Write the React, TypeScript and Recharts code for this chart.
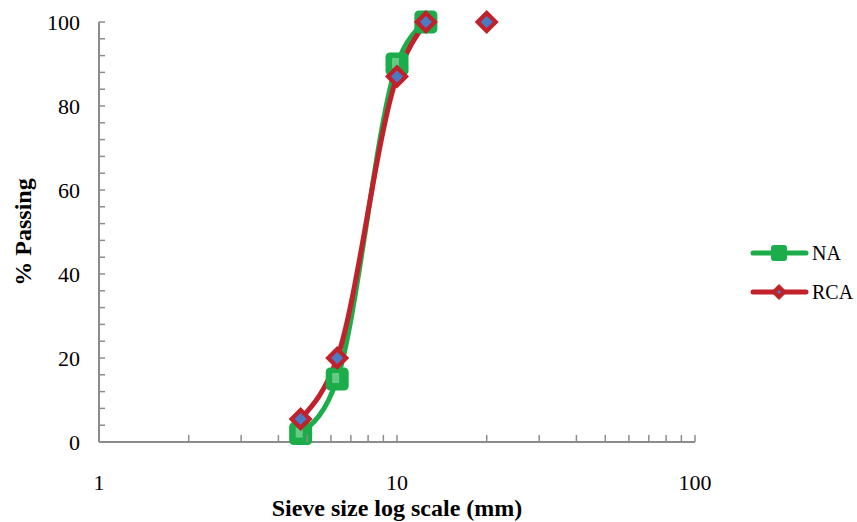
import React from 'react';
import {
  LineChart,
  Line,
  XAxis,
  YAxis,
} from 'recharts';

// sieve sizes (mm) and % passing
const naSizes = [4.75, 6.3, 10, 12.5];
const naPassing = [2, 15, 90, 100];
const rcaSizes = [4.75, 6.3, 10, 12.5, 16, 20];
const rcaPassing: (number | null)[] = [5.5, 20, 87, 100, null, 100];

const xTicks = [1, 2, 3, 4, 5, 6, 7, 8, 9, 10, 20, 30, 40, 50, 60, 70, 80, 90, 100];
const xLabels = [1, 10, 100];
const yTicks = [0, 4, 8, 12, 16, 20, 24, 28, 32, 36, 40, 44, 48, 52, 56, 60, 64, 68, 72, 76, 80, 84, 88, 92, 96, 100];
const yLabels = [0, 20, 40, 60, 80, 100];

const GREEN = '#1cad4b';
const GREEN_LIGHT = '#86d6a0';
const RED = '#c0212b';
const BLUE = '#4a7cc6';
const AXIS = '#8c8c8c';
const FONT = 'Liberation Serif, serif';

const naData = naSizes.map((x, i) => ({ x, y: naPassing[i] }));
const rcaData = rcaSizes.map((x, i) => ({ x, y: rcaPassing[i] }));

const XTick = (props: any) => {
  const { x, y, payload } = props;
  const v = payload.value;
  const major = xLabels.includes(v);
  return (
    <g>
      {v !== 1 && <line x1={x} x2={x} y1={y} y2={y - 7} stroke={AXIS} strokeWidth={1.5} />}
      {major && (
        <text x={x} y={y + 48} textAnchor="middle" fontSize={22} fontFamily={FONT} fill="#000">
          {v}
        </text>
      )}
    </g>
  );
};

const YTick = (props: any) => {
  const { x, y, payload } = props;
  const v = payload.value;
  const major = yLabels.includes(v);
  return (
    <g>
      {v !== 0 && <line x1={x} x2={x + 6} y1={y} y2={y} stroke={AXIS} strokeWidth={1.5} />}
      {major && (
        <text x={x - 19} y={y + 8} textAnchor="end" fontSize={22} fontFamily={FONT} fill="#000">
          {v}
        </text>
      )}
    </g>
  );
};

const SquareDot = (props: any) => {
  const { cx, cy } = props;
  if (cx == null || cy == null) return <g />;
  return (
    <g>
      <rect x={cx - 10} y={cy - 10} width={20} height={20} rx={3} fill={GREEN} stroke={GREEN} strokeWidth={3} />
      <rect x={cx - 5} y={cy - 6} width={7} height={10} fill={GREEN_LIGHT} opacity={0.7} />
    </g>
  );
};

const DiamondDot = (props: any) => {
  const { cx, cy } = props;
  if (cx == null || cy == null) return <g />;
  return (
    <g>
      <path d={`M${cx},${cy - 12} L${cx + 12},${cy} L${cx},${cy + 12} L${cx - 12},${cy} Z`} fill={RED} />
      <path d={`M${cx},${cy - 6} L${cx + 6},${cy} L${cx},${cy + 6} L${cx - 6},${cy} Z`} fill={BLUE} />
    </g>
  );
};

const ChartLegend = () => (
  <svg width={107} height={64} style={{ position: 'absolute', left: 750, top: 238 }}>
    <line x1={3} x2={56} y1={15} y2={15} stroke={GREEN} strokeWidth={5} strokeLinecap="round" />
    <rect x={21} y={7} width={16} height={16} rx={3} fill={GREEN} />
    <text x={62} y={22} fontSize={20} fontFamily={FONT} fill="#000">NA</text>
    <line x1={3} x2={56} y1={54} y2={54} stroke={RED} strokeWidth={5} strokeLinecap="round" />
    <path d="M29,46 L37,54 L29,62 L21,54 Z" fill={RED} />
    <path d="M29,52 L31,54 L29,56 L27,54 Z" fill={BLUE} />
    <text x={62} y={61} fontSize={20} fontFamily={FONT} fill="#000">RCA</text>
  </svg>
);

export default function App() {
  return (
    <div style={{ position: 'absolute', left: 0, top: 0, width: 857, height: 522, background: '#fff', fontFamily: FONT }}>
      <LineChart width={857} height={522} margin={{ top: 22, right: 162, left: 0, bottom: 0 }}>
        <XAxis
          type="number"
          dataKey="x"
          scale="log"
          domain={[1, 100]}
          ticks={xTicks}
          interval={0}
          allowDataOverflow
          tickSize={0}
          tickMargin={0}
          tickLine={false}
          tick={<XTick />}
          height={80}
          stroke={AXIS}
          strokeWidth={2}
        />
        <YAxis
          type="number"
          dataKey="y"
          domain={[0, 100]}
          ticks={yTicks}
          interval={0}
          tickSize={0}
          tickMargin={0}
          tickLine={false}
          tick={<YTick />}
          width={99}
          stroke={AXIS}
          strokeWidth={2}
        />
        <Line
          data={naData}
          dataKey="y"
          name="NA"
          type="monotone"
          stroke={GREEN}
          strokeWidth={5}
          dot={<SquareDot />}
          isAnimationActive={false}
        />
        <Line
          data={rcaData}
          dataKey="y"
          name="RCA"
          type="monotone"
          stroke={RED}
          strokeWidth={5}
          dot={<DiamondDot />}
          isAnimationActive={false}
        />
        <text x={23} y={232} transform="rotate(-90 23 232)" textAnchor="middle" dominantBaseline="central" fontSize={24} fontWeight="bold" fontFamily={FONT}>
          % Passing
        </text>
        <text x={397} y={516} textAnchor="middle" fontSize={24} fontWeight="bold" fontFamily={FONT}>
          Sieve size log scale (mm)
        </text>
      </LineChart>
      <ChartLegend />
    </div>
  );
}
